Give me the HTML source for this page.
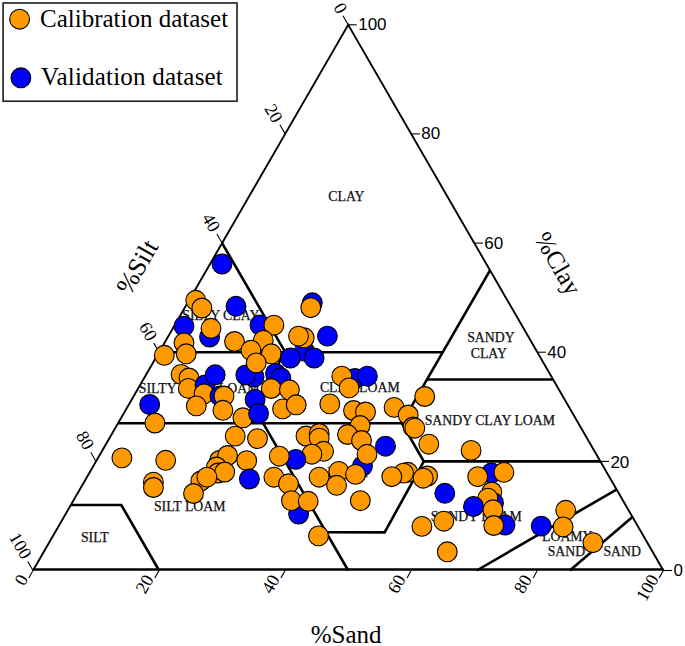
<!DOCTYPE html>
<html><head><meta charset="utf-8"><title>Soil texture triangle</title>
<style>
html,body{margin:0;padding:0;background:#fff;}
body{width:685px;height:646px;overflow:hidden;}
svg{display:block;}
.tr{font-family:"Liberation Sans",sans-serif;font-size:17px;fill:#000;}
.tl{font-family:"Liberation Serif",serif;font-size:18px;fill:#000;}
.rg{font-family:"Liberation Serif",serif;font-size:13.8px;fill:#111;stroke:#111;stroke-width:0.25px;}
.ax{font-family:"Liberation Serif",serif;font-size:25px;fill:#000;}
.lg{font-family:"Liberation Serif",serif;font-size:25px;fill:#000;}
</style></head>
<body>
<svg width="685" height="646" viewBox="0 0 685 646">
<rect width="685" height="646" fill="#fff"/>
<g fill="none" stroke="#000" stroke-width="2.6" stroke-linejoin="miter">
<polyline points="159.1,352.2 442.8,352.2"/>
<polyline points="222.1,243.1 285.2,352.2"/>
<polyline points="490.0,270.4 401.8,423.2"/>
<polyline points="427.0,379.5 553.1,379.5"/>
<polyline points="118.1,423.2 401.8,423.2"/>
<polyline points="285.2,352.2 244.2,423.2"/>
<polyline points="401.8,423.2 423.8,461.4 600.4,461.4"/>
<polyline points="263.1,423.2 348.2,570.5"/>
<polyline points="70.8,505.0 121.3,505.0 159.1,570.5"/>
<polyline points="616.9,489.3 476.7,570.5"/>
<polyline points="423.8,461.4 384.6,532.4 326.1,532.3"/>
<polyline points="633.0,516.4 569.8,570.5"/>
</g>
<polyline points="33.0,570.5 348.2,24.8 663.4,570.5" fill="none" stroke="#000" stroke-width="1.9"/>
<line x1="33.0" y1="569.4" x2="663.4" y2="569.4" stroke="#000" stroke-width="2.5"/>
<g stroke="#000" stroke-width="1.1">
<line x1="663.4" y1="570.5" x2="672.0" y2="570.5"/>
<line x1="348.2" y1="24.8" x2="342.9" y2="15.7"/>
<line x1="33.0" y1="570.5" x2="28.8" y2="577.9"/>
<line x1="600.4" y1="461.4" x2="609.0" y2="461.4"/>
<line x1="285.2" y1="133.9" x2="279.9" y2="124.8"/>
<line x1="159.1" y1="570.5" x2="154.8" y2="577.9"/>
<line x1="537.3" y1="352.2" x2="545.9" y2="352.2"/>
<line x1="222.1" y1="243.1" x2="216.9" y2="234.0"/>
<line x1="285.2" y1="570.5" x2="280.9" y2="577.9"/>
<line x1="474.3" y1="243.1" x2="482.9" y2="243.1"/>
<line x1="159.1" y1="352.2" x2="153.8" y2="343.1"/>
<line x1="411.2" y1="570.5" x2="407.0" y2="577.9"/>
<line x1="411.2" y1="133.9" x2="419.8" y2="133.9"/>
<line x1="96.0" y1="461.4" x2="90.8" y2="452.3"/>
<line x1="537.3" y1="570.5" x2="533.1" y2="577.9"/>
<line x1="348.2" y1="24.8" x2="356.8" y2="24.8"/>
<line x1="33.0" y1="570.5" x2="27.8" y2="561.4"/>
<line x1="663.4" y1="570.5" x2="659.1" y2="577.9"/>
</g>
<text class="tr" x="673.4" y="575.5">0</text>
<text class="tr" x="610.4" y="467.6">20</text>
<text class="tr" x="547.3" y="358.2">40</text>
<text class="tr" x="484.3" y="248.8">60</text>
<text class="tr" x="421.2" y="139.1">80</text>
<text class="tr" x="358.2" y="29.8">100</text>
<text class="tl" transform="translate(340.4,8.2) rotate(60)" text-anchor="middle" dy="0.33em">0</text>
<text class="tl" transform="translate(273.6,113.3) rotate(60)" text-anchor="middle" dy="0.33em">20</text>
<text class="tl" transform="translate(211.2,222.6) rotate(60)" text-anchor="middle" dy="0.33em">40</text>
<text class="tl" transform="translate(148.2,331.4) rotate(60)" text-anchor="middle" dy="0.33em">60</text>
<text class="tl" transform="translate(85.1,440.2) rotate(60)" text-anchor="middle" dy="0.33em">80</text>
<text class="tl" transform="translate(20.4,545.6) rotate(60)" text-anchor="middle" dy="0.33em">100</text>
<text class="tl" transform="translate(21.4,579.9) rotate(-60)" text-anchor="middle" dy="0.33em">0</text>
<text class="tl" transform="translate(144.5,584.1) rotate(-60)" text-anchor="middle" dy="0.33em">20</text>
<text class="tl" transform="translate(270.6,584.1) rotate(-60)" text-anchor="middle" dy="0.33em">40</text>
<text class="tl" transform="translate(396.7,584.1) rotate(-60)" text-anchor="middle" dy="0.33em">60</text>
<text class="tl" transform="translate(522.8,584.1) rotate(-60)" text-anchor="middle" dy="0.33em">80</text>
<text class="tl" transform="translate(647.4,587.7) rotate(-60)" text-anchor="middle" dy="0.33em">100</text>
<text class="rg" x="328.3" y="201.2">CLAY</text>
<text class="rg" x="182.3" y="320.4">SILTY CLAY</text>
<text class="rg" x="467.2" y="341.7">SANDY</text>
<text class="rg" x="470.7" y="357.7">CLAY</text>
<text class="rg" x="138.8" y="392.5">SILTY CLAY LOAM</text>
<text class="rg" x="319.9" y="392.0">CLAY LOAM</text>
<text class="rg" x="424.7" y="424.7">SANDY CLAY LOAM</text>
<text class="rg" x="327.3" y="477.3">LOAM</text>
<text class="rg" x="153.9" y="510.9">SILT LOAM</text>
<text class="rg" x="430.7" y="520.9">SANDY LOAM</text>
<text class="rg" x="80.9" y="541.7">SILT</text>
<text class="rg" x="542.0" y="540.7">LOAMY</text>
<text class="rg" x="547.7" y="556.4">SAND</text>
<text class="rg" x="603.4" y="556.4">SAND</text>
<g stroke="#000" stroke-width="1.1">
<circle cx="222.0" cy="264.0" r="9.9" fill="#0000ff"/>
<circle cx="195.7" cy="300.3" r="9.9" fill="#ff9900"/>
<circle cx="201.9" cy="308.0" r="9.9" fill="#ff9900"/>
<circle cx="236.0" cy="306.3" r="9.9" fill="#0000ff"/>
<circle cx="312.3" cy="302.8" r="9.9" fill="#0000ff"/>
<circle cx="310.8" cy="307.7" r="9.9" fill="#ff9900"/>
<circle cx="184.0" cy="326.2" r="9.9" fill="#0000ff"/>
<circle cx="209.6" cy="337.0" r="9.9" fill="#0000ff"/>
<circle cx="211.0" cy="328.3" r="9.9" fill="#ff9900"/>
<circle cx="260.0" cy="325.0" r="9.9" fill="#0000ff"/>
<circle cx="273.9" cy="325.2" r="9.9" fill="#ff9900"/>
<circle cx="184.0" cy="342.8" r="9.9" fill="#ff9900"/>
<circle cx="164.3" cy="355.3" r="9.9" fill="#ff9900"/>
<circle cx="186.2" cy="353.8" r="9.9" fill="#ff9900"/>
<circle cx="234.5" cy="341.5" r="9.9" fill="#ff9900"/>
<circle cx="263.3" cy="340.3" r="9.9" fill="#ff9900"/>
<circle cx="250.9" cy="350.3" r="9.9" fill="#ff9900"/>
<circle cx="271.3" cy="353.8" r="9.9" fill="#ff9900"/>
<circle cx="254.0" cy="377.0" r="9.9" fill="#0000ff"/>
<circle cx="245.8" cy="375.0" r="9.9" fill="#0000ff"/>
<circle cx="256.2" cy="362.9" r="9.9" fill="#ff9900"/>
<circle cx="304.5" cy="351.2" r="9.9" fill="#0000ff"/>
<circle cx="304.2" cy="337.8" r="9.9" fill="#ff9900"/>
<circle cx="298.5" cy="336.1" r="9.9" fill="#ff9900"/>
<circle cx="327.4" cy="336.1" r="9.9" fill="#0000ff"/>
<circle cx="290.4" cy="358.0" r="9.9" fill="#0000ff"/>
<circle cx="314.1" cy="358.0" r="9.9" fill="#0000ff"/>
<circle cx="181.1" cy="374.4" r="9.9" fill="#ff9900"/>
<circle cx="189.0" cy="378.0" r="9.9" fill="#ff9900"/>
<circle cx="188.3" cy="388.4" r="9.9" fill="#ff9900"/>
<circle cx="205.0" cy="385.0" r="9.9" fill="#0000ff"/>
<circle cx="215.2" cy="374.8" r="9.9" fill="#0000ff"/>
<circle cx="204.0" cy="393.8" r="9.9" fill="#ff9900"/>
<circle cx="196.3" cy="405.9" r="9.9" fill="#ff9900"/>
<circle cx="220.0" cy="396.0" r="9.9" fill="#0000ff"/>
<circle cx="224.0" cy="396.0" r="9.9" fill="#ff9900"/>
<circle cx="222.9" cy="410.3" r="9.9" fill="#ff9900"/>
<circle cx="149.7" cy="404.5" r="9.9" fill="#0000ff"/>
<circle cx="154.9" cy="423.0" r="9.9" fill="#ff9900"/>
<circle cx="275.5" cy="373.5" r="9.9" fill="#0000ff"/>
<circle cx="280.8" cy="377.8" r="9.9" fill="#0000ff"/>
<circle cx="271.2" cy="388.5" r="9.9" fill="#ff9900"/>
<circle cx="289.4" cy="389.8" r="9.9" fill="#ff9900"/>
<circle cx="282.6" cy="408.9" r="9.9" fill="#ff9900"/>
<circle cx="296.2" cy="404.8" r="9.9" fill="#ff9900"/>
<circle cx="255.1" cy="399.5" r="9.9" fill="#0000ff"/>
<circle cx="242.9" cy="417.8" r="9.9" fill="#ff9900"/>
<circle cx="258.6" cy="413.5" r="9.9" fill="#0000ff"/>
<circle cx="235.2" cy="436.1" r="9.9" fill="#ff9900"/>
<circle cx="257.5" cy="438.6" r="9.9" fill="#ff9900"/>
<circle cx="355.0" cy="378.5" r="9.9" fill="#0000ff"/>
<circle cx="341.8" cy="376.2" r="9.9" fill="#ff9900"/>
<circle cx="367.4" cy="376.2" r="9.9" fill="#0000ff"/>
<circle cx="349.1" cy="387.9" r="9.9" fill="#ff9900"/>
<circle cx="329.8" cy="403.9" r="9.9" fill="#ff9900"/>
<circle cx="353.5" cy="410.5" r="9.9" fill="#ff9900"/>
<circle cx="365.5" cy="412.0" r="9.9" fill="#ff9900"/>
<circle cx="394.1" cy="407.4" r="9.9" fill="#ff9900"/>
<circle cx="424.7" cy="396.5" r="9.9" fill="#ff9900"/>
<circle cx="408.2" cy="415.0" r="9.9" fill="#ff9900"/>
<circle cx="413.0" cy="427.0" r="9.9" fill="#ff9900"/>
<circle cx="414.8" cy="428.2" r="9.9" fill="#ff9900"/>
<circle cx="360.1" cy="425.5" r="9.9" fill="#ff9900"/>
<circle cx="347.5" cy="434.5" r="9.9" fill="#ff9900"/>
<circle cx="361.5" cy="440.5" r="9.9" fill="#ff9900"/>
<circle cx="362.5" cy="466.0" r="9.9" fill="#0000ff"/>
<circle cx="367.0" cy="454.3" r="9.9" fill="#ff9900"/>
<circle cx="385.5" cy="446.2" r="9.9" fill="#0000ff"/>
<circle cx="306.0" cy="436.0" r="9.9" fill="#ff9900"/>
<circle cx="319.2" cy="433.5" r="9.9" fill="#ff9900"/>
<circle cx="319.2" cy="438.2" r="9.9" fill="#ff9900"/>
<circle cx="323.6" cy="451.3" r="9.9" fill="#ff9900"/>
<circle cx="311.9" cy="454.2" r="9.9" fill="#ff9900"/>
<circle cx="295.8" cy="459.4" r="9.9" fill="#0000ff"/>
<circle cx="428.8" cy="444.2" r="9.9" fill="#ff9900"/>
<circle cx="121.9" cy="457.9" r="9.9" fill="#ff9900"/>
<circle cx="165.7" cy="460.3" r="9.9" fill="#ff9900"/>
<circle cx="153.4" cy="482.2" r="9.9" fill="#ff9900"/>
<circle cx="153.4" cy="487.5" r="9.9" fill="#ff9900"/>
<circle cx="219.5" cy="460.5" r="9.9" fill="#ff9900"/>
<circle cx="227.6" cy="455.5" r="9.9" fill="#ff9900"/>
<circle cx="200.8" cy="481.0" r="9.9" fill="#ff9900"/>
<circle cx="216.5" cy="467.0" r="9.9" fill="#ff9900"/>
<circle cx="218.0" cy="473.0" r="9.9" fill="#ff9900"/>
<circle cx="224.7" cy="472.0" r="9.9" fill="#ff9900"/>
<circle cx="206.9" cy="477.1" r="9.9" fill="#ff9900"/>
<circle cx="193.5" cy="493.5" r="9.9" fill="#ff9900"/>
<circle cx="246.7" cy="460.6" r="9.9" fill="#ff9900"/>
<circle cx="279.3" cy="456.2" r="9.9" fill="#ff9900"/>
<circle cx="249.4" cy="479.0" r="9.9" fill="#0000ff"/>
<circle cx="273.9" cy="477.2" r="9.9" fill="#ff9900"/>
<circle cx="288.5" cy="483.8" r="9.9" fill="#ff9900"/>
<circle cx="298.6" cy="514.0" r="9.9" fill="#0000ff"/>
<circle cx="291.4" cy="500.6" r="9.9" fill="#ff9900"/>
<circle cx="308.2" cy="501.3" r="9.9" fill="#ff9900"/>
<circle cx="319.1" cy="477.2" r="9.9" fill="#ff9900"/>
<circle cx="338.8" cy="471.4" r="9.9" fill="#ff9900"/>
<circle cx="336.6" cy="485.3" r="9.9" fill="#ff9900"/>
<circle cx="355.5" cy="474.4" r="9.9" fill="#ff9900"/>
<circle cx="360.3" cy="500.7" r="9.9" fill="#ff9900"/>
<circle cx="318.5" cy="535.9" r="9.9" fill="#ff9900"/>
<circle cx="407.9" cy="472.3" r="9.9" fill="#ff9900"/>
<circle cx="403.5" cy="473.1" r="9.9" fill="#ff9900"/>
<circle cx="391.8" cy="476.7" r="9.9" fill="#ff9900"/>
<circle cx="427.6" cy="476.0" r="9.9" fill="#ff9900"/>
<circle cx="423.2" cy="478.2" r="9.9" fill="#ff9900"/>
<circle cx="471.1" cy="450.4" r="9.9" fill="#ff9900"/>
<circle cx="491.5" cy="473.0" r="9.9" fill="#0000ff"/>
<circle cx="477.7" cy="476.7" r="9.9" fill="#ff9900"/>
<circle cx="503.9" cy="472.3" r="9.9" fill="#ff9900"/>
<circle cx="444.8" cy="493.3" r="9.9" fill="#0000ff"/>
<circle cx="491.8" cy="492.0" r="9.9" fill="#ff9900"/>
<circle cx="493.5" cy="503.0" r="9.9" fill="#0000ff"/>
<circle cx="487.8" cy="498.2" r="9.9" fill="#ff9900"/>
<circle cx="473.5" cy="506.5" r="9.9" fill="#0000ff"/>
<circle cx="492.9" cy="509.8" r="9.9" fill="#ff9900"/>
<circle cx="505.0" cy="525.0" r="9.9" fill="#0000ff"/>
<circle cx="493.7" cy="525.5" r="9.9" fill="#ff9900"/>
<circle cx="421.9" cy="526.4" r="9.9" fill="#ff9900"/>
<circle cx="443.8" cy="521.2" r="9.9" fill="#ff9900"/>
<circle cx="447.3" cy="551.8" r="9.9" fill="#ff9900"/>
<circle cx="565.7" cy="510.3" r="9.9" fill="#ff9900"/>
<circle cx="541.2" cy="526.1" r="9.9" fill="#0000ff"/>
<circle cx="563.1" cy="526.9" r="9.9" fill="#ff9900"/>
<circle cx="592.9" cy="542.7" r="9.9" fill="#ff9900"/>
</g>
<text class="ax" transform="translate(137.2,266.9) rotate(-60)" text-anchor="middle" dy="0.33em" style="font-size:26px">%Silt</text>
<text class="ax" transform="translate(558,263.5) rotate(60)" text-anchor="middle" dy="0.33em">%Clay</text>
<text class="ax" x="346.2" y="643.3" text-anchor="middle">%Sand</text>
<rect x="3.1" y="3.0" width="233.9" height="98.2" fill="#fff" stroke="#2a2a2a" stroke-width="1.7"/>
<circle cx="19.6" cy="19.2" r="9.9" fill="#ff9900" stroke="#000" stroke-width="1.1"/>
<circle cx="20.9" cy="77.8" r="9.9" fill="#0000ff" stroke="#000" stroke-width="1.1"/>
<text class="lg" x="40" y="26.5">Calibration dataset</text>
<text class="lg" x="41" y="85" letter-spacing="0.2">Validation dataset</text>
</svg>
</body></html>
